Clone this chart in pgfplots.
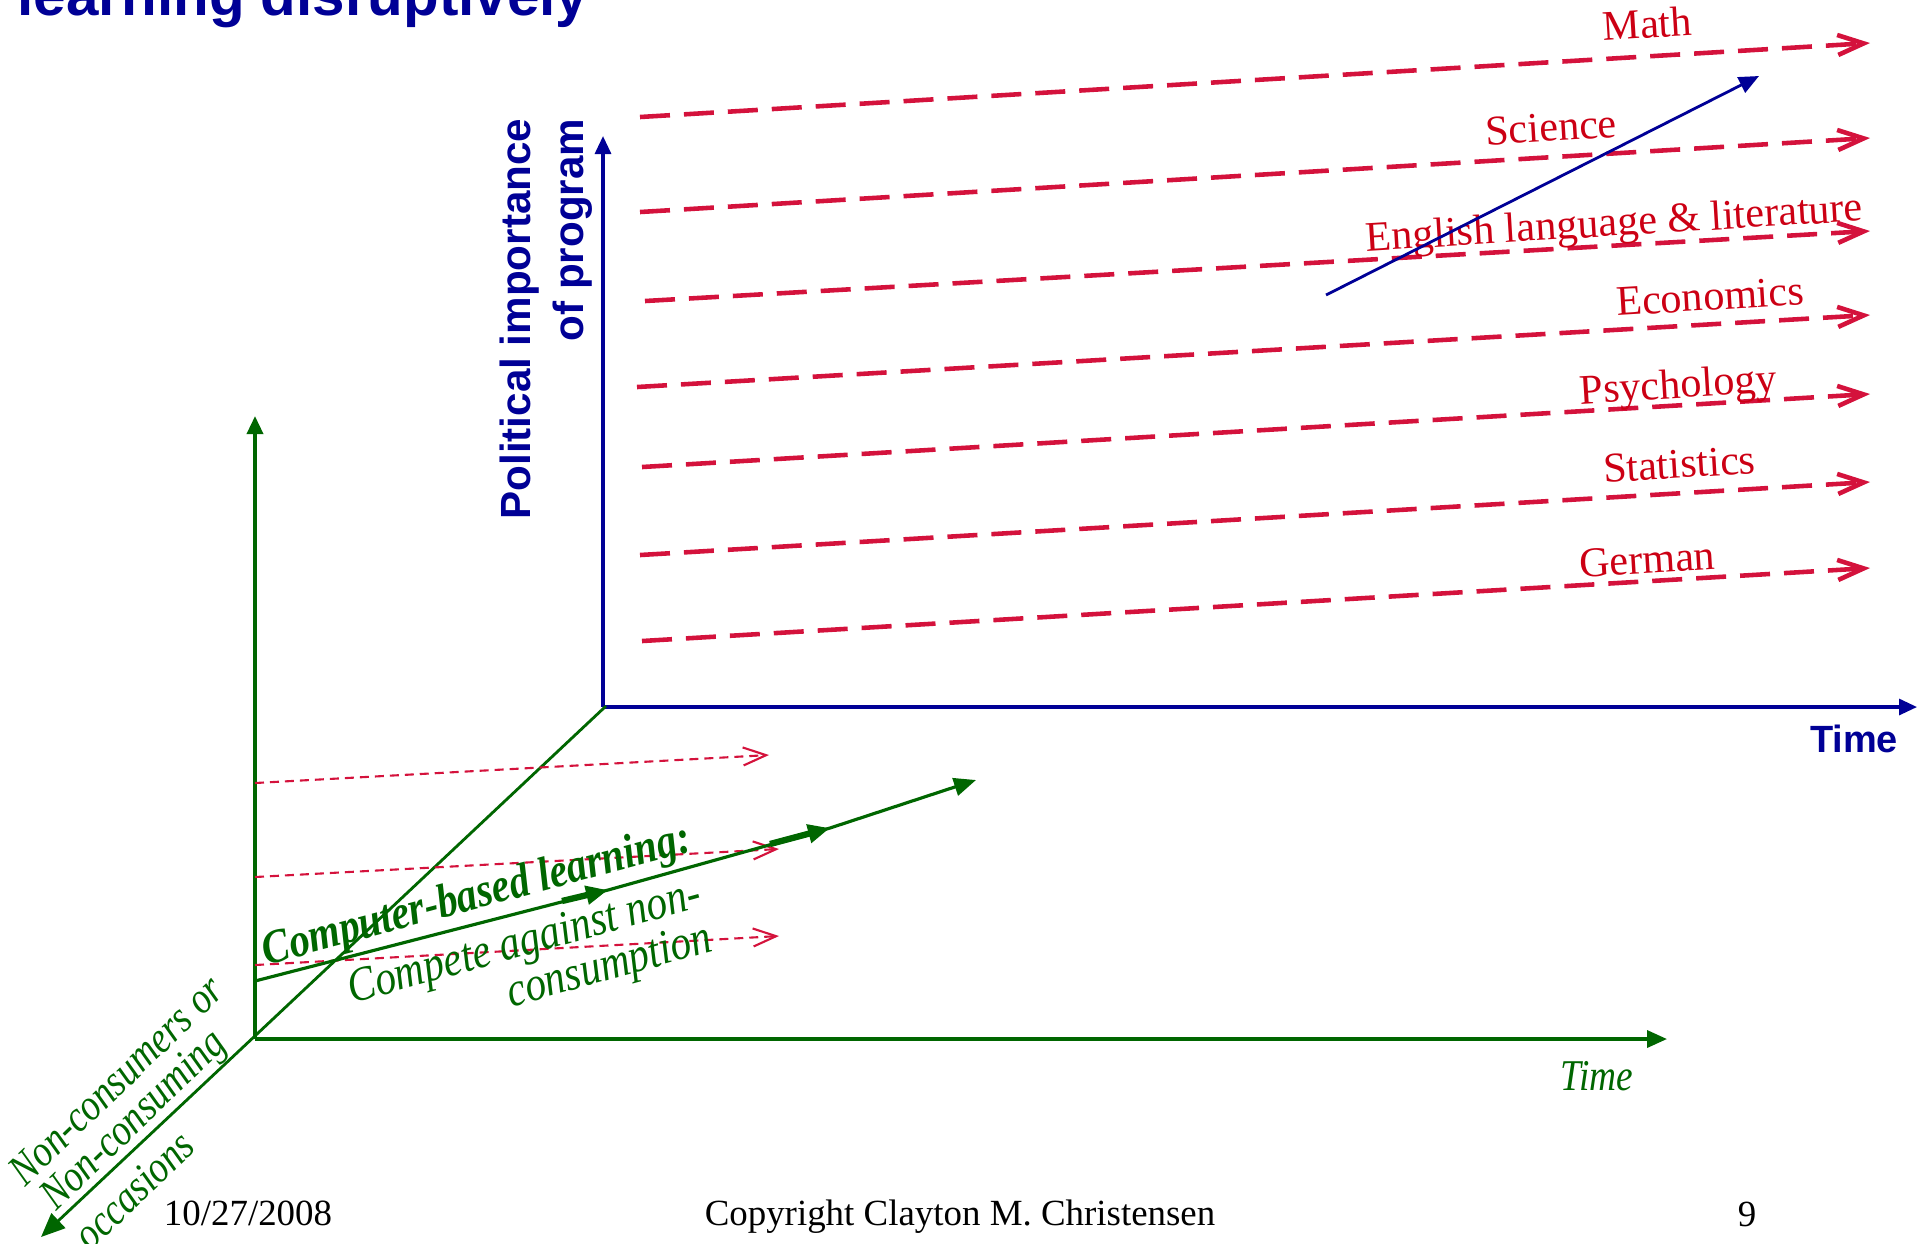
\documentclass[border=0pt]{standalone}
\usepackage{pgfplots}
\pgfplotsset{compat=1.18}
\usepackage{fontspec}
\setmainfont{Liberation Serif}
\newfontfamily\arial{Liberation Sans}
\newfontfamily\cond[FakeStretch=0.85]{Liberation Serif}
\usetikzlibrary{arrows.meta}

\definecolor{dblue}{RGB}{0,0,150}
\definecolor{lred}{RGB}{212,18,60}
\definecolor{tred}{RGB}{204,0,20}
\definecolor{dgreen}{RGB}{0,102,0}

\tikzset{
  redline/.style={lred, line width=1.3pt, dash pattern=on 3mm off 1.4mm,
    -{Straight Barb[length=2.6mm,width=2mm]}},
  thinred/.style={lred, line width=0.6pt, dash pattern=on 0.9mm off 0.6mm,
    -{Straight Barb[length=2.3mm,width=1.8mm]}},
  lab/.style={anchor=base, inner sep=0pt, text=tred, rotate=3.5,
    font=\fontsize{12}{14}\selectfont},
  gtxt/.style={inner sep=0pt, text=dgreen},
}

% 1 unit = 1 px of the slide (0.1 mm)
\pgfplotstableread{
x y
640 117
1870 43
}\math
\pgfplotstableread{
x y
640 212
1870 138
}\science
\pgfplotstableread{
x y
645 301
1870 231
}\english
\pgfplotstableread{
x y
637 387
1870 315
}\economics
\pgfplotstableread{
x y
642 467
1870 394
}\psychology
\pgfplotstableread{
x y
640 555
1870 482
}\statistics
\pgfplotstableread{
x y
642 641
1870 568
}\german

\begin{document}
\begin{tikzpicture}
\begin{axis}[
  width=192.9mm, height=124.3mm, scale only axis,
  xmin=0, xmax=1929, ymin=0, ymax=1243, y dir=reverse,
  hide axis, clip=false,
  every axis plot/.append style={mark=none},
]
% title (cut off by the top edge)
\node[anchor=base west, inner sep=0pt, text=dblue,
  font=\arial\bfseries\fontsize{16.6}{19}\selectfont] at (axis cs:17,15) {learning disruptively};

% blue axes
\addplot[dblue, line width=0.9pt, -{Triangle[length=1.8mm,width=1.6mm]}] coordinates {(603,707) (603,136)};
\addplot[dblue, line width=0.9pt, -{Triangle[length=1.8mm,width=1.6mm]}] coordinates {(603,707) (1917,707)};
\node[rotate=90, anchor=east, align=right, inner sep=0pt, text=dblue,
  font=\arial\bfseries\fontsize{12}{15}\selectfont] at (axis cs:546,118)
  {Political importance\\of program};
\node[anchor=base, inner sep=0pt, text=dblue,
  font=\arial\bfseries\fontsize{10.8}{13}\selectfont] at (axis cs:1854,752) {Time};

% subject lines
\addplot[redline] table {\math};
\addplot[redline] table {\science};
\addplot[redline] table {\english};
\addplot[redline] table {\economics};
\addplot[redline] table {\psychology};
\addplot[redline] table {\statistics};
\addplot[redline] table {\german};
\node[lab] at (axis cs:1648,38) {Math};
\node[lab] at (axis cs:1552,141) {Science};
\node[lab] at (axis cs:1615,236) {English language \& literature};
\node[lab] at (axis cs:1711,310) {Economics};
\node[lab] at (axis cs:1679,398) {Psychology};
\node[lab] at (axis cs:1680,478) {Statistics};
\node[lab] at (axis cs:1648,573) {German};

% rising blue arrow
\addplot[dblue, line width=0.8pt, -{Triangle[length=2mm,width=1.7mm]}] coordinates {(1326,295) (1759,76)};

% green axes
\addplot[dgreen, line width=1pt, -{Triangle[length=1.8mm,width=1.6mm]}] coordinates {(255,1039) (255,416)};
\addplot[dgreen, line width=1pt, -{Triangle[length=2mm,width=1.7mm]}] coordinates {(255,1039) (1667,1039)};
\addplot[dgreen, line width=0.8pt, -{Triangle[length=2.4mm,width=2mm]}] coordinates {(606,706) (41,1237)};
\node[gtxt, anchor=base, font=\cond\itshape\fontsize{12.5}{14}\selectfont] at (axis cs:1597,1090) {Time};

% thin red dashed lines
\addplot[thinred] coordinates {(255,783) (769,755)};
\addplot[thinred] coordinates {(255,877) (779,849)};
\addplot[thinred] coordinates {(255,965) (779,936)};

% computer-based learning line
\addplot[dgreen, line width=0.9pt, -{Triangle[length=2.2mm,width=1.8mm]}] coordinates {(255,981) (608,890) (830,828) (976,780)};
\addplot[dgreen, line width=1.8pt, -{Triangle[length=2.2mm,width=1.8mm]}] coordinates {(562,901) (608,890)};
\addplot[dgreen, line width=1.8pt, -{Triangle[length=2.2mm,width=1.8mm]}] coordinates {(770,844) (830,828)};

\node[gtxt, anchor=base, rotate=15,
  font=\cond\bfseries\itshape\fontsize{13.6}{15}\selectfont] at (axis cs:480,908) {Computer-based learning:};
\node[gtxt, anchor=base, rotate=15.5,
  font=\cond\itshape\fontsize{13.8}{15}\selectfont] at (axis cs:528,955) {Compete against non-};
\node[gtxt, anchor=base, rotate=15.5,
  font=\cond\itshape\fontsize{13.8}{15}\selectfont] at (axis cs:613,979) {consumption};

\node[gtxt, anchor=center, rotate=44,
  font=\cond\itshape\fontsize{12.6}{14}\selectfont] at (axis cs:116,1080) {Non-consumers or};
\node[gtxt, anchor=center, rotate=44,
  font=\cond\itshape\fontsize{12.6}{14}\selectfont] at (axis cs:135,1122) {Non-consuming};
\node[gtxt, anchor=center, rotate=44,
  font=\cond\itshape\fontsize{12.6}{14}\selectfont] at (axis cs:134,1190) {occasions};

% footer
\node[anchor=base, inner sep=0pt, font=\fontsize{10.5}{12}\selectfont] at (axis cs:248,1225) {10/27/2008};
\node[anchor=base, inner sep=0pt, font=\fontsize{10.5}{12}\selectfont] at (axis cs:960,1225) {Copyright Clayton M. Christensen};
\node[anchor=base, inner sep=0pt, font=\fontsize{10.5}{12}\selectfont] at (axis cs:1747,1226) {9};
\end{axis}
\pgfresetboundingbox
\path[use as bounding box] (current axis.south west) rectangle (current axis.north east);
\end{tikzpicture}
\end{document}
